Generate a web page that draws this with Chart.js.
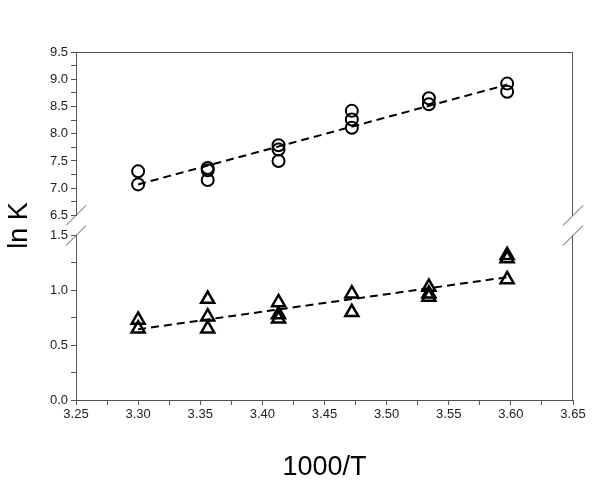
<!DOCTYPE html>
<html>
<head>
<meta charset="utf-8">
<script src="https://cdn.jsdelivr.net/npm/chart.js@4/dist/chart.umd.min.js"></script>
<style>
  html, body { margin: 0; padding: 0; background: #fff; }
  #wrap { width: 600px; height: 484px; }
</style>
</head>
<body>
<div id="wrap"><canvas id="lnkChart"></canvas></div>
<script>
// 1000/T positions of each measurement
const circleX = [3.300, 3.300, 3.356, 3.356, 3.356, 3.413, 3.413, 3.413, 3.472, 3.472, 3.472, 3.534, 3.534, 3.597, 3.597];
const circleY = [7.31, 7.07, 7.37, 7.33, 7.15, 7.79, 7.71, 7.50, 8.42, 8.26, 8.11, 8.65, 8.54, 8.92, 8.77];

const triangleX = [3.300, 3.300, 3.356, 3.356, 3.356, 3.413, 3.413, 3.413, 3.472, 3.472, 3.534, 3.534, 3.534, 3.597, 3.597, 3.597];
const triangleY = [0.73, 0.65, 0.92, 0.76, 0.65, 0.89, 0.78, 0.74, 0.97, 0.80, 1.03, 0.97, 0.94, 1.32, 1.29, 1.10];

// dashed fit lines (end points)
const fitX = [3.300, 3.597];
const fitTop = [7.07, 8.90];
const fitBottom = [0.645, 1.12];

const axisColor = "#555";
const fontName = "'Liberation Sans', Arial, sans-serif";

function toPoints(xs, ys) {
  return xs.map((x, i) => ({ x: x, y: ys[i] }));
}

// frame lines and the "//" break marks
const framePlugin = {
  id: "frame",
  afterDraw(chart) {
    const ctx = chart.ctx;
    const x = chart.scales.x;
    const top = chart.scales.yTop;
    const bot = chart.scales.yBot;
    ctx.save();
    ctx.strokeStyle = axisColor;
    ctx.lineWidth = 1;
    ctx.beginPath();
    ctx.moveTo(x.left, top.top + 0.5);
    ctx.lineTo(x.right, top.top + 0.5);
    ctx.moveTo(x.right - 0.5, top.top);
    ctx.lineTo(x.right - 0.5, top.bottom);
    ctx.moveTo(x.right - 0.5, bot.top);
    ctx.lineTo(x.right - 0.5, bot.bottom);
    [x.left, x.right].forEach((px) => {
      [top.bottom, bot.top].forEach((py) => {
        ctx.moveTo(px + 10, py - 10);
        ctx.lineTo(px - 10, py + 10);
      });
    });
    ctx.stroke();
    ctx.restore();
  },
};

function halfLabel(digits) {
  return function (value) {
    const v = Number(value);
    const k = Math.round(v / 0.05);
    if (digits === 2) {
      return Math.abs(v - k * 0.05) < 1e-6 ? v.toFixed(2) : "";
    }
    const h = Math.round(v * 2);
    return Math.abs(v * 2 - h) < 1e-6 ? v.toFixed(1) : "";
  };
}

const tickFont = { family: fontName, size: 13 };

const ctx = document.getElementById("lnkChart").getContext("2d");
new Chart(ctx, {
  type: "scatter",
  data: {
    datasets: [
      {
        label: "fit top",
        type: "line",
        data: toPoints(fitX, fitTop),
        yAxisID: "yTop",
        borderColor: "#000",
        borderWidth: 2,
        borderDash: [8, 5],
        pointRadius: 0,
        fill: false,
      },
      {
        label: "fit bottom",
        type: "line",
        data: toPoints(fitX, fitBottom),
        yAxisID: "yBot",
        borderColor: "#000",
        borderWidth: 2,
        borderDash: [8, 5],
        pointRadius: 0,
        fill: false,
      },
      {
        label: "circles",
        data: toPoints(circleX, circleY),
        yAxisID: "yTop",
        pointStyle: "circle",
        pointRadius: 6,
        borderWidth: 2,
        borderColor: "#000",
        backgroundColor: "rgba(0,0,0,0)",
      },
      {
        label: "triangles",
        data: toPoints(triangleX, triangleY),
        yAxisID: "yBot",
        pointStyle: "triangle",
        pointRadius: 7.5,
        borderWidth: 2.5,
        borderColor: "#000",
        backgroundColor: "rgba(0,0,0,0)",
      },
    ],
  },
  options: {
    responsive: true,
    maintainAspectRatio: false,
    animation: false,
    layout: { padding: { top: 52, right: 27, bottom: 0, left: 0 } },
    plugins: {
      legend: { display: false },
      tooltip: { enabled: false },
    },
    scales: {
      x: {
        type: "linear",
        min: 3.25,
        max: 3.65,
        ticks: {
          stepSize: 0.025,
          autoSkip: false,
          maxRotation: 0,
          padding: 2,
          color: "#222",
          font: tickFont,
          callback: halfLabel(2),
        },
        grid: { drawOnChartArea: false, drawTicks: true, tickLength: 5, color: axisColor },
        border: { color: axisColor },
        title: {
          display: true,
          text: "1000/T",
          color: "#000",
          font: { family: fontName, size: 27 },
          padding: { top: 27, bottom: 0 },
        },
      },
      yTop: {
        type: "linear",
        position: "left",
        stack: "lnk",
        stackWeight: 163,
        weight: 3,
        min: 6.5,
        max: 9.5,
        ticks: {
          stepSize: 0.25,
          autoSkip: false,
          padding: 3,
          color: "#222",
          font: tickFont,
          callback: halfLabel(1),
        },
        grid: { drawOnChartArea: false, drawTicks: true, tickLength: 5, color: axisColor },
        border: { color: axisColor },
      },
      yGap: {
        type: "linear",
        position: "left",
        stack: "lnk",
        stackWeight: 20,
        weight: 2,
        min: 0,
        max: 1,
        ticks: { display: false },
        grid: { display: false, drawTicks: false },
        border: { display: false },
        title: {
          display: true,
          text: "ln K",
          color: "#000",
          font: { family: fontName, size: 27 },
          padding: { top: 3, bottom: 40.6 },
        },
      },
      yBot: {
        type: "linear",
        position: "left",
        stack: "lnk",
        stackWeight: 164,
        weight: 1,
        min: 0,
        max: 1.5,
        ticks: {
          stepSize: 0.25,
          autoSkip: false,
          padding: 3,
          color: "#222",
          font: tickFont,
          callback: halfLabel(1),
        },
        grid: { drawOnChartArea: false, drawTicks: true, tickLength: 5, color: axisColor },
        border: { color: axisColor },
      },
    },
  },
  plugins: [framePlugin],
});
</script>
</body>
</html>
